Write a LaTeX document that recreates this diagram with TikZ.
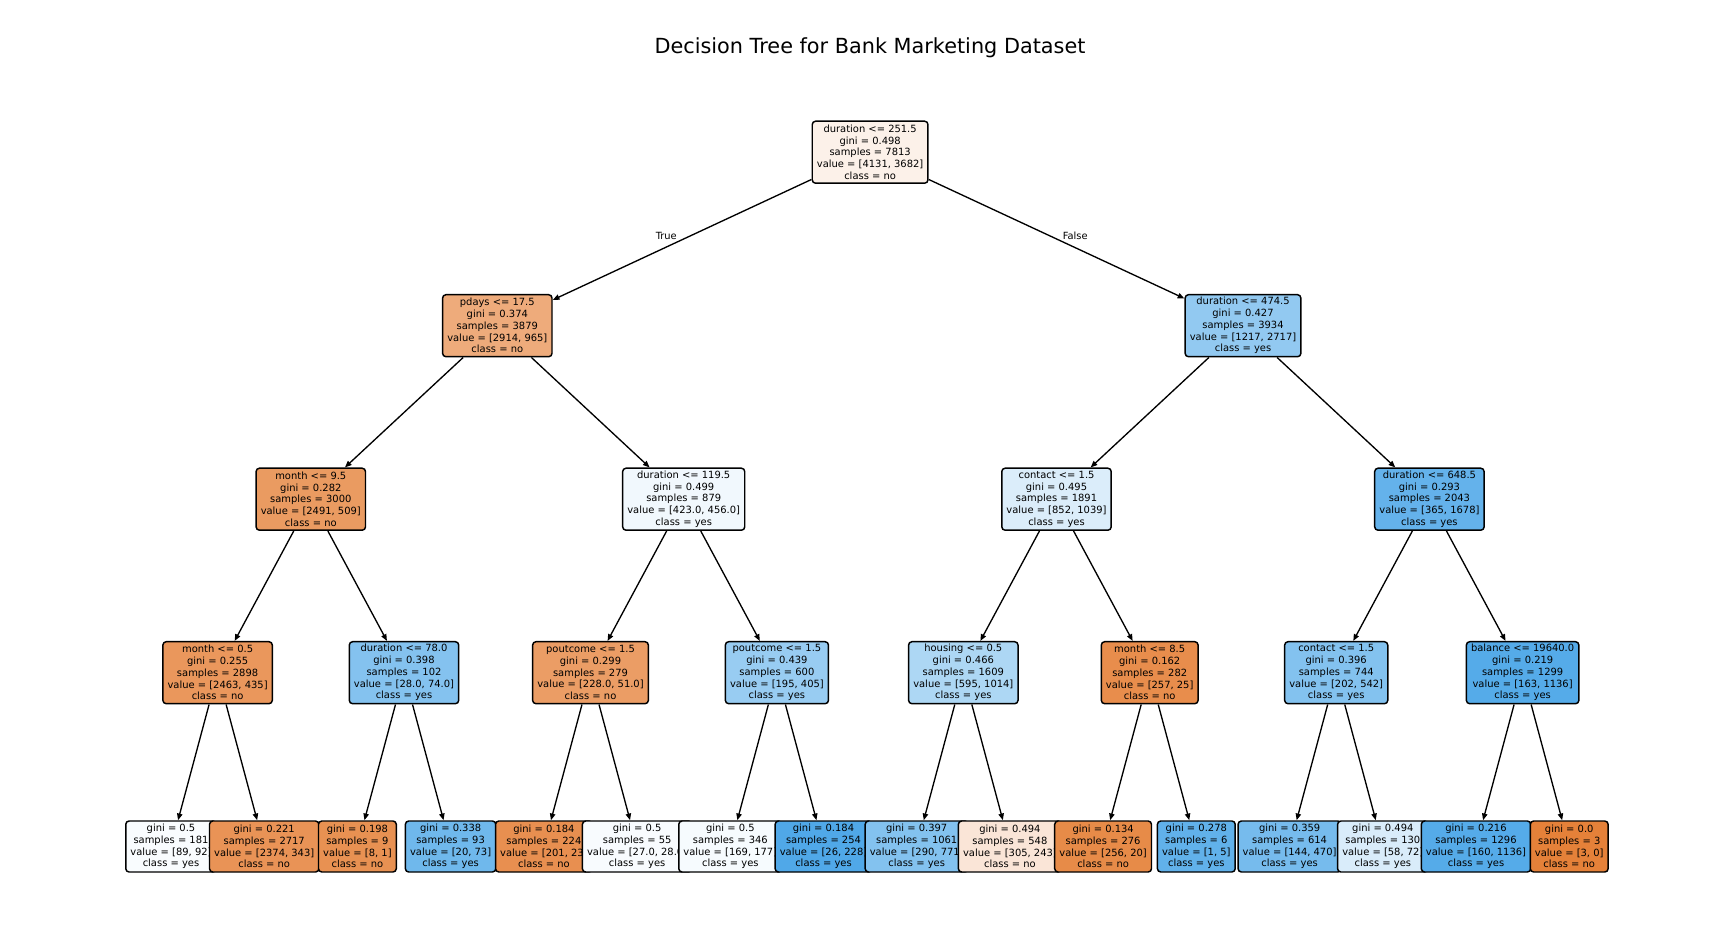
\documentclass[tikz,border=0pt]{standalone}
\usepackage{fontspec}
\setmainfont{DejaVu Sans}
\usetikzlibrary{arrows.meta}
\definecolor{cR}{RGB}{252,241,233}
\definecolor{cA}{RGB}{238,171,123}
\definecolor{cB}{RGB}{146,201,241}
\definecolor{cAA}{RGB}{234,155,97}
\definecolor{cAB}{RGB}{241,248,253}
\definecolor{cBA}{RGB}{219,237,250}
\definecolor{cBB}{RGB}{100,178,235}
\definecolor{cAAA}{RGB}{234,151,92}
\definecolor{cAAB}{RGB}{132,194,239}
\definecolor{cABA}{RGB}{235,157,101}
\definecolor{cABB}{RGB}{152,204,242}
\definecolor{cBAA}{RGB}{173,215,244}
\definecolor{cBAB}{RGB}{232,141,76}
\definecolor{cBBA}{RGB}{131,194,239}
\definecolor{cBBB}{RGB}{85,171,233}
\definecolor{l1}{RGB}{249,252,254}
\definecolor{l2}{RGB}{233,147,86}
\definecolor{l3}{RGB}{232,145,82}
\definecolor{l4}{RGB}{111,184,236}
\definecolor{l5}{RGB}{232,143,80}
\definecolor{l6}{RGB}{248,251,254}
\definecolor{l7}{RGB}{246,251,254}
\definecolor{l8}{RGB}{80,168,232}
\definecolor{l9}{RGB}{131,194,239}
\definecolor{l10}{RGB}{250,229,215}
\definecolor{l11}{RGB}{231,139,72}
\definecolor{l12}{RGB}{97,177,234}
\definecolor{l13}{RGB}{118,187,237}
\definecolor{l14}{RGB}{217,236,250}
\definecolor{l15}{RGB}{85,171,233}
\definecolor{l16}{RGB}{229,129,57}
\begin{document}
\begin{tikzpicture}[x=0.75pt,y=-0.75pt,
  tn/.style={draw=black, line width=1.1pt, rounded corners=2.5pt, align=center,
    inner xsep=3.5pt, inner ysep=1pt, outer sep=0.6pt,
    font=\fontsize{7.45pt}{8.8pt}\selectfont, minimum height=46.5pt},
  lf/.style={tn, minimum height=38.25pt},
  lbl/.style={font=\fontsize{7.4pt}{8.77pt}\selectfont, inner sep=0pt},
  arr/.style={line width=1pt, -{Stealth[length=5pt,width=4pt,inset=0pt]}}]
\useasboundingbox (0,0) rectangle (1715,939);
\node[font=\fontsize{15.6pt}{18pt}\selectfont, inner sep=0pt] (title) at (870,48) {Decision Tree for Bank Marketing Dataset};
% level 0
\node[tn, fill=cR] (r) at (870.1,152.2) {duration <= 251.5\\gini = 0.498\\samples = 7813\\value = [4131, 3682]\\class = no};
% left subtree
\node[tn, fill=cA] (a) at (497.3,325.7) {pdays <= 17.5\\gini = 0.374\\samples = 3879\\value = [2914, 965]\\class = no};
\node[tn, fill=cAA] (aa) at (310.8,499.2) {month <= 9.5\\gini = 0.282\\samples = 3000\\value = [2491, 509]\\class = no};
\node[tn, fill=cAAA] (aaa) at (217.6,672.7) {month <= 0.5\\gini = 0.255\\samples = 2898\\value = [2463, 435]\\class = no};
\node[lf, fill=l1] (f1) at (171.0,846.5) {gini = 0.5\\samples = 181\\value = [89, 92]\\class = yes};
\node[lf, fill=l2] (f2) at (264.2,846.5) {gini = 0.221\\samples = 2717\\value = [2374, 343]\\class = no};
\node[tn, fill=cAAB] (aab) at (404.0,672.7) {duration <= 78.0\\gini = 0.398\\samples = 102\\value = [28.0, 74.0]\\class = yes};
\node[lf, fill=l3] (f3) at (357.4,846.5) {gini = 0.198\\samples = 9\\value = [8, 1]\\class = no};
\node[lf, fill=l4] (f4) at (450.6,846.5) {gini = 0.338\\samples = 93\\value = [20, 73]\\class = yes};
\node[tn, fill=cAB] (ab) at (683.7,499.2) {duration <= 119.5\\gini = 0.499\\samples = 879\\value = [423.0, 456.0]\\class = yes};
\node[tn, fill=cABA] (aba) at (590.5,672.7) {poutcome <= 1.5\\gini = 0.299\\samples = 279\\value = [228.0, 51.0]\\class = no};
\node[lf, fill=l5] (f5) at (543.9,846.5) {gini = 0.184\\samples = 224\\value = [201, 23]\\class = no};
\node[lf, fill=l6] (f6) at (637.1,846.5) {gini = 0.5\\samples = 55\\value = [27.0, 28.0]\\class = yes};
\node[tn, fill=cABB] (abb) at (776.9,672.7) {poutcome <= 1.5\\gini = 0.439\\samples = 600\\value = [195, 405]\\class = yes};
\node[lf, fill=l7] (f7) at (730.3,846.5) {gini = 0.5\\samples = 346\\value = [169, 177]\\class = yes};
\node[lf, fill=l8] (f8) at (823.5,846.5) {gini = 0.184\\samples = 254\\value = [26, 228]\\class = yes};
% right subtree
\node[tn, fill=cB] (b) at (1243.0,325.7) {duration <= 474.5\\gini = 0.427\\samples = 3934\\value = [1217, 2717]\\class = yes};
\node[tn, fill=cBA] (ba) at (1056.5,499.2) {contact <= 1.5\\gini = 0.495\\samples = 1891\\value = [852, 1039]\\class = yes};
\node[tn, fill=cBAA] (baa) at (963.3,672.7) {housing <= 0.5\\gini = 0.466\\samples = 1609\\value = [595, 1014]\\class = yes};
\node[lf, fill=l9] (f9) at (916.7,846.5) {gini = 0.397\\samples = 1061\\value = [290, 771]\\class = yes};
\node[lf, fill=l10] (f10) at (1009.9,846.5) {gini = 0.494\\samples = 548\\value = [305, 243]\\class = no};
\node[tn, fill=cBAB] (bab) at (1149.7,672.7) {month <= 8.5\\gini = 0.162\\samples = 282\\value = [257, 25]\\class = no};
\node[lf, fill=l11] (f11) at (1103.1,846.5) {gini = 0.134\\samples = 276\\value = [256, 20]\\class = no};
\node[lf, fill=l12] (f12) at (1196.3,846.5) {gini = 0.278\\samples = 6\\value = [1, 5]\\class = yes};
\node[tn, fill=cBB] (bb) at (1429.4,499.2) {duration <= 648.5\\gini = 0.293\\samples = 2043\\value = [365, 1678]\\class = yes};
\node[tn, fill=cBBA] (bba) at (1336.2,672.7) {contact <= 1.5\\gini = 0.396\\samples = 744\\value = [202, 542]\\class = yes};
\node[lf, fill=l13] (f13) at (1289.6,846.5) {gini = 0.359\\samples = 614\\value = [144, 470]\\class = yes};
\node[lf, fill=l14] (f14) at (1382.8,846.5) {gini = 0.494\\samples = 130\\value = [58, 72]\\class = yes};
\node[tn, fill=cBBB] (bbb) at (1522.6,672.7) {balance <= 19640.0\\gini = 0.219\\samples = 1299\\value = [163, 1136]\\class = yes};
\node[lf, fill=l15] (f15) at (1476.0,846.5) {gini = 0.216\\samples = 1296\\value = [160, 1136]\\class = yes};
\node[lf, fill=l16] (f16) at (1569.2,846.5) {gini = 0.0\\samples = 3\\value = [3, 0]\\class = no};
% edges
\draw[arr] (r) -- (a);
\draw[arr] (r) -- (b);
\draw[arr] (a) -- (aa);
\draw[arr] (a) -- (ab);
\draw[arr] (b) -- (ba);
\draw[arr] (b) -- (bb);
\draw[arr] (aa) -- (aaa);
\draw[arr] (aa) -- (aab);
\draw[arr] (ab) -- (aba);
\draw[arr] (ab) -- (abb);
\draw[arr] (ba) -- (baa);
\draw[arr] (ba) -- (bab);
\draw[arr] (bb) -- (bba);
\draw[arr] (bb) -- (bbb);
\draw[arr] (aaa) -- (f1);
\draw[arr] (aaa) -- (f2);
\draw[arr] (aab) -- (f3);
\draw[arr] (aab) -- (f4);
\draw[arr] (aba) -- (f5);
\draw[arr] (aba) -- (f6);
\draw[arr] (abb) -- (f7);
\draw[arr] (abb) -- (f8);
\draw[arr] (baa) -- (f9);
\draw[arr] (baa) -- (f10);
\draw[arr] (bab) -- (f11);
\draw[arr] (bab) -- (f12);
\draw[arr] (bba) -- (f13);
\draw[arr] (bba) -- (f14);
\draw[arr] (bbb) -- (f15);
\draw[arr] (bbb) -- (f16);
\node[lbl] (ltrue) at (666.3,235.5) {True};
\node[lbl] (lfalse) at (1075.2,235.5) {False};
\end{tikzpicture}
\end{document}
